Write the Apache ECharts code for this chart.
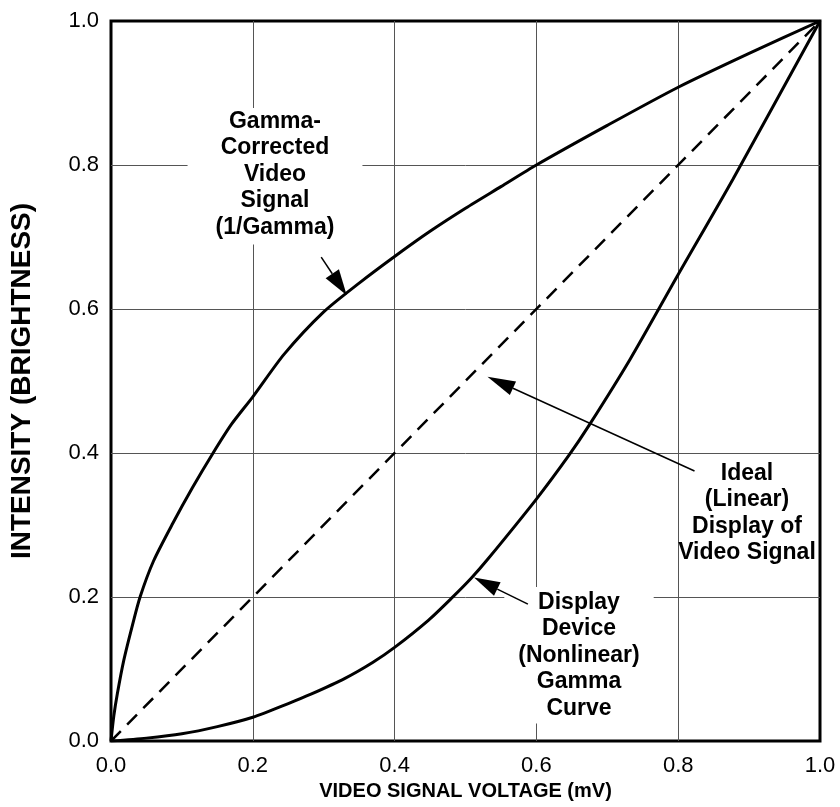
<!DOCTYPE html>
<html><head><meta charset="utf-8">
<script src="https://cdn.jsdelivr.net/npm/echarts@6/dist/echarts.min.js"></script>
<style>html,body{margin:0;padding:0;background:#fff}#c{width:840px;height:807px}</style>
</head><body><div id="c"></div>
<script>
// ---- data ----
const axisTicks = [0.0, 0.2, 0.4, 0.6, 0.8, 1.0];
const gammaX = [0, 0.004, 0.009, 0.018, 0.03, 0.041, 0.06, 0.087, 0.115, 0.144, 0.17, 0.2, 0.244, 0.3, 0.35, 0.4, 0.45, 0.5, 0.55, 0.6, 0.7, 0.8, 0.9, 1.0];
const gammaY = [0, 0.035, 0.066, 0.112, 0.16, 0.2, 0.25, 0.302, 0.352, 0.4, 0.44, 0.478, 0.537, 0.596, 0.636, 0.673, 0.708, 0.74, 0.77, 0.8, 0.855, 0.908, 0.955, 1.0];
const displayX = [0, 0.05, 0.1, 0.15, 0.2, 0.25, 0.282, 0.33, 0.369, 0.4, 0.448, 0.48, 0.508, 0.531, 0.6, 0.646, 0.674, 0.732, 0.8, 0.877, 1.0];
const displayY = [0, 0.004, 0.01, 0.02, 0.033, 0.052, 0.065, 0.087, 0.109, 0.13, 0.168, 0.198, 0.226, 0.252, 0.336, 0.397, 0.438, 0.53, 0.648, 0.78, 1.0];
const idealX = [0, 1];
const idealY = [0, 1];
const xTitle = 'VIDEO SIGNAL VOLTAGE (mV)';
const yTitle = 'INTENSITY (BRIGHTNESS)';
const gammaLabel = 'Gamma-\nCorrected\nVideo\nSignal\n(1/Gamma)';
const idealLabel = 'Ideal\n(Linear)\nDisplay of\nVideo Signal';
const displayLabel = 'Display\nDevice\n(Nonlinear)\nGamma\nCurve';
// arrow annotations: [tailX, tailY, tipX, tipY] in data units
const gammaArrow = [0.2965, 0.672, 0.3325, 0.619];
const idealArrow = [0.823, 0.375, 0.531, 0.506];
const displayArrow = [0.588, 0.19, 0.512, 0.227];

const zip = (xs, ys) => xs.map((x, i) => [x, ys[i]]);
const FONT = '"Liberation Sans", Arial, Helvetica, sans-serif';

const chart = echarts.init(document.getElementById('c'), null, {renderer: 'canvas'});
const axisCommon = {
  type: 'value', min: 0, max: 1, interval: 0.2,
  axisLine: {show: false}, axisTick: {show: false},
  splitLine: {show: true, showMinLine: false, showMaxLine: false, lineStyle: {color: '#555', width: 1}},
  axisLabel: {color: '#000', fontFamily: FONT, fontSize: 22, formatter: v => v.toFixed(1)}
};
chart.setOption({
  animation: false,
  backgroundColor: '#fff',
  grid: {left: 107, right: 20, top: 21, bottom: 66, show: true, borderColor: '#000', borderWidth: 3, backgroundColor: 'transparent'},
  xAxis: Object.assign({}, axisCommon, {
    axisLabel: Object.assign({}, axisCommon.axisLabel, {margin: 14}),
    name: xTitle, nameLocation: 'middle', nameGap: 39,
    nameTextStyle: {color: '#000', fontFamily: FONT, fontWeight: 'bold', fontSize: 20}
  }),
  yAxis: Object.assign({}, axisCommon, {
    axisLabel: Object.assign({}, axisCommon.axisLabel, {margin: 12}),
    name: yTitle, nameLocation: 'middle', nameGap: 75,
    nameTextStyle: {color: '#000', fontFamily: FONT, fontWeight: 'bold', fontSize: 28}
  }),
  series: [
    {type: 'line', name: 'gamma', data: zip(gammaX, gammaY), showSymbol: false, smooth: 0.25,
     lineStyle: {color: '#000', width: 3}, silent: true},
    {type: 'line', name: 'display', data: zip(displayX, displayY), showSymbol: false, smooth: 0.25,
     lineStyle: {color: '#000', width: 3}, silent: true},
    {type: 'line', name: 'ideal', data: zip(idealX, idealY), showSymbol: false,
     lineStyle: {color: '#000', width: 2.5, type: [14, 9]}, silent: true}
  ]
});

function arrow(a, headLen, headW) {
  const p0 = chart.convertToPixel({gridIndex: 0}, [a[0], a[1]]);
  const p1 = chart.convertToPixel({gridIndex: 0}, [a[2], a[3]]);
  const dx = p1[0] - p0[0], dy = p1[1] - p0[1];
  const L = Math.hypot(dx, dy), ux = dx / L, uy = dy / L;
  const bx = p1[0] - ux * headLen, by = p1[1] - uy * headLen;
  const nx = -uy * headW / 2, ny = ux * headW / 2;
  return [
    {type: 'line', z: 10, shape: {x1: p0[0], y1: p0[1], x2: bx, y2: by}, style: {stroke: '#000', lineWidth: 1.5}},
    {type: 'polygon', z: 10, shape: {points: [[p1[0], p1[1]], [bx + nx, by + ny], [bx - nx, by - ny]]}, style: {fill: '#000'}}
  ];
}
const textStyle = {fill: '#000', font: 'bold 23px ' + FONT, textAlign: 'center', textVerticalAlign: 'top', lineHeight: 26.5};
chart.setOption({
  graphic: [
    {type: 'text', z: 1, x: 275, y: 108, style: Object.assign({}, textStyle, {text: gammaLabel, backgroundColor: '#fff', padding: [0, 28, 4, 28]})},
    {type: 'text', z: 1, x: 579, y: 587, style: Object.assign({}, textStyle, {text: displayLabel, backgroundColor: '#fff', padding: [2, 14, 2, 14]})},
    {type: 'text', z: 1, x: 747, y: 460, style: Object.assign({}, textStyle, {text: idealLabel})}
  ].concat(arrow(gammaArrow, 26, 16), arrow(idealArrow, 28, 15), arrow(displayArrow, 26, 15))
});
</script></body></html>
